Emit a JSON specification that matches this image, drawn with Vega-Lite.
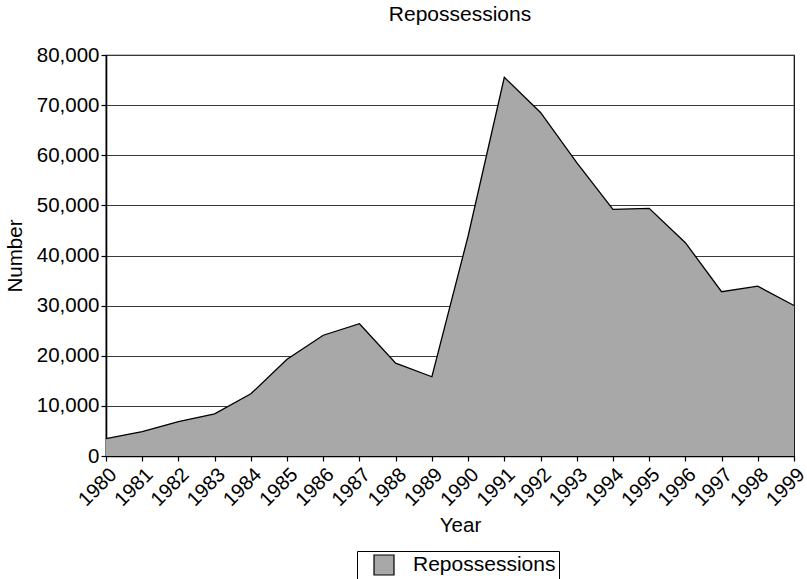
{
  "$schema": "https://vega.github.io/schema/vega-lite/v6.json",
  "width": 688,
  "height": 401,
  "autosize": {"type": "none"},
  "padding": {"left": 106, "top": 55, "right": 13, "bottom": 123},
  "background": "white",
  "config": {
    "font": "Liberation Sans",
    "view": {"stroke": "black", "strokeWidth": 1.2},
    "axis": {
      "labelFont": "Liberation Sans",
      "titleFont": "Liberation Sans",
      "labelFontSize": 20.5,
      "titleFontSize": 20.5,
      "titleFontWeight": "normal",
      "labelColor": "black",
      "titleColor": "black",
      "domainColor": "black",
      "tickColor": "black",
      "gridColor": "#3a3a3a",
      "gridWidth": 1,
      "domainWidth": 1.6,
      "tickSize": 5,
      "tickWidth": 1.2
    }
  },
  "title": {
    "text": "Repossessions",
    "fontSize": 21,
    "fontWeight": "normal",
    "font": "Liberation Sans",
    "color": "black",
    "anchor": "middle",
    "dx": 10,
    "offset": 20
  },
  "data": {
    "values": [
      {"year": 1980, "number": 3480, "series": "Repossessions"},
      {"year": 1981, "number": 4870, "series": "Repossessions"},
      {"year": 1982, "number": 6860, "series": "Repossessions"},
      {"year": 1983, "number": 8420, "series": "Repossessions"},
      {"year": 1984, "number": 12400, "series": "Repossessions"},
      {"year": 1985, "number": 19300, "series": "Repossessions"},
      {"year": 1986, "number": 24090, "series": "Repossessions"},
      {"year": 1987, "number": 26390, "series": "Repossessions"},
      {"year": 1988, "number": 18510, "series": "Repossessions"},
      {"year": 1989, "number": 15810, "series": "Repossessions"},
      {"year": 1990, "number": 43890, "series": "Repossessions"},
      {"year": 1991, "number": 75540, "series": "Repossessions"},
      {"year": 1992, "number": 68540, "series": "Repossessions"},
      {"year": 1993, "number": 58540, "series": "Repossessions"},
      {"year": 1994, "number": 49210, "series": "Repossessions"},
      {"year": 1995, "number": 49410, "series": "Repossessions"},
      {"year": 1996, "number": 42560, "series": "Repossessions"},
      {"year": 1997, "number": 32770, "series": "Repossessions"},
      {"year": 1998, "number": 33870, "series": "Repossessions"},
      {"year": 1999, "number": 30030, "series": "Repossessions"}
    ]
  },
  "encoding": {
    "x": {
      "field": "year",
      "type": "quantitative",
      "scale": {"domain": [1980, 1999], "nice": false, "zero": false},
      "axis": {
        "title": "Year",
        "values": [1980, 1981, 1982, 1983, 1984, 1985, 1986, 1987, 1988, 1989, 1990, 1991, 1992, 1993, 1994, 1995, 1996, 1997, 1998, 1999],
        "format": "d",
        "labelAngle": -45,
        "labelAlign": "right",
        "labelBaseline": "top",
        "labelFontSize": 20,
        "labelPadding": 3,
        "labelOverlap": false,
        "labelFlush": false,
        "grid": false,
        "titlePadding": 6,
        "titleX": 354
      }
    },
    "y": {
      "field": "number",
      "type": "quantitative",
      "scale": {"domain": [0, 80000], "nice": false},
      "axis": {
        "title": "Number",
        "values": [0, 10000, 20000, 30000, 40000, 50000, 60000, 70000, 80000],
        "format": ",d",
        "grid": true,
        "labelPadding": 2,
        "titlePadding": 11
      }
    }
  },
  "layer": [
    {
      "mark": {"type": "area", "opacity": 1},
      "encoding": {
        "color": {
          "field": "series",
          "type": "nominal",
          "scale": {"range": ["#a8a8a8"]},
          "legend": {
            "title": null,
            "orient": "none",
            "legendX": 251,
            "legendY": 496,
            "direction": "horizontal",
            "symbolType": "square",
            "symbolSize": 400,
            "symbolOffset": 13,
            "symbolStrokeColor": "black",
            "symbolStrokeWidth": 1.2,
            "symbolFillColor": "#a8a8a8",
            "labelFontSize": 21,
            "labelFont": "Liberation Sans",
            "labelColor": "black",
            "labelOffset": 18,
            "labelExpr": "datum.label + '\u2002'",
            "strokeColor": "black",
            "padding": 3,
            "fillColor": "white"
          }
        }
      }
    },
    {
      "mark": {"type": "line", "color": "black", "strokeWidth": 1.3},
      "encoding": {}
    }
  ]
}
